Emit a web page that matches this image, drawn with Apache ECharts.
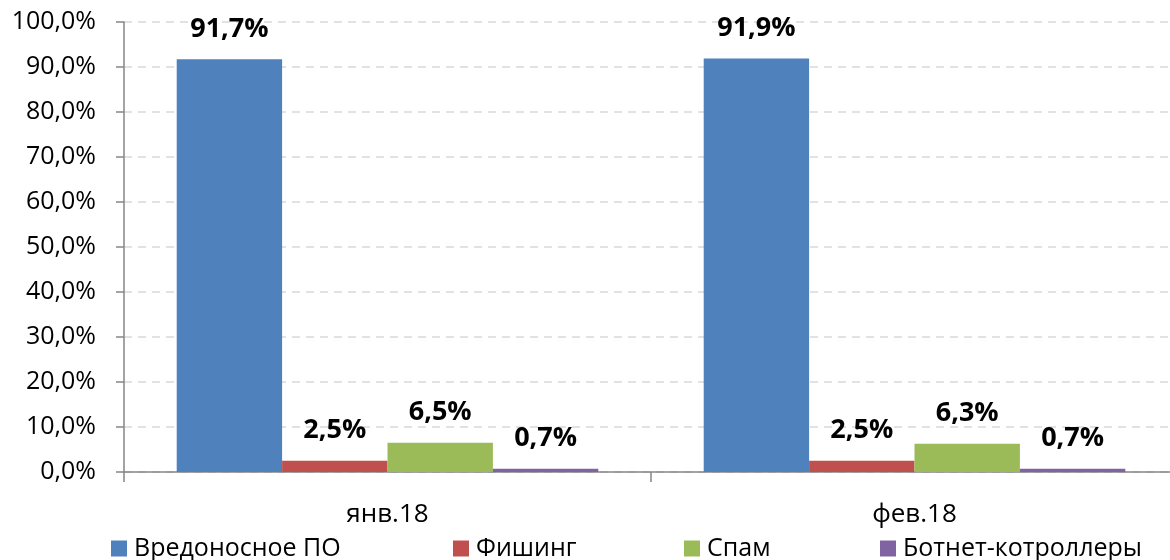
<!DOCTYPE html>
<html><head><meta charset="utf-8">
<script src="https://cdn.jsdelivr.net/npm/echarts@6/dist/echarts.min.js"></script>
<style>html,body{margin:0;padding:0;background:#fff;overflow:hidden;width:1170px;height:560px}#c{width:1180px;height:560px}</style>
</head><body><div id="c"></div>
<script>
const categories = ['янв.18', 'фев.18'];
const seriesNames = ['Вредоносное ПО', 'Фишинг', 'Спам', 'Ботнет-котроллеры'];
const malware = [91.7, 91.9];
const phishing = [2.5, 2.5];
const spam = [6.5, 6.3];
const botnet = [0.7, 0.7];
const colors = ['#4F81BD', '#C0504D', '#9BBB59', '#8064A2'];
const legendLefts = [111, 453, 684, 880];
const FONT = 'Open Sans';
const fmt = v => v.toFixed(1).replace('.', ',') + '%';

const chart = echarts.init(document.getElementById('c'));
const allData = [malware, phishing, spam, botnet];
chart.setOption({
  animation: false,
  color: colors,
  textStyle: {fontFamily: FONT},
  grid: {left: 124, top: 22, width: 1054, height: 450},
  legend: seriesNames.map((n, i) => ({
    left: legendLefts[i], top: 536, itemWidth: 16, itemHeight: 16, padding: 0,
    icon: 'rect',
    textStyle: {fontFamily: FONT, fontSize: 25, color: '#000', padding: [0, 0, 0, 2]},
    data: [n]
  })),
  xAxis: {
    type: 'category', data: categories,
    axisLine: {lineStyle: {color: '#868686', width: 1.5}},
    axisTick: {show: true, length: 10, lineStyle: {color: '#868686', width: 1.5}},
    axisLabel: {fontFamily: FONT, fontSize: 26, color: '#000', margin: 30}
  },
  yAxis: {
    type: 'value', min: 0, max: 100, interval: 10,
    axisLine: {show: true, lineStyle: {color: '#868686', width: 1.5}},
    axisTick: {show: true, length: 8, lineStyle: {color: '#868686', width: 1.5}},
    axisLabel: {fontFamily: FONT, fontSize: 25, color: '#000', margin: 28, formatter: fmt},
    splitLine: {lineStyle: {color: '#d9d9d9', type: [8, 6], width: 1.5}}
  },
  series: seriesNames.map((n, i) => ({
    name: n, type: 'bar', data: allData[i],
    barGap: '0%', barCategoryGap: '20%',
    itemStyle: {color: colors[i]},
    label: {show: true, position: 'top', distance: 17, fontFamily: FONT, fontSize: 27, fontWeight: 'bold', color: '#000',
            formatter: p => fmt(p.value)}
  }))
});
</script></body></html>
